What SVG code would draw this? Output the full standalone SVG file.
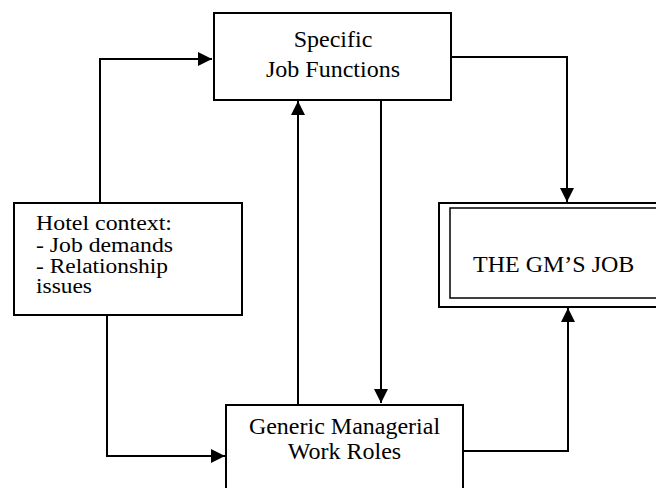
<svg xmlns="http://www.w3.org/2000/svg" width="656" height="488" viewBox="0 0 656 488">
<style>
.box{fill:#fff;stroke:#000;stroke-width:2}
.inner{fill:none;stroke:#000;stroke-width:1.5}
.ln{fill:none;stroke:#000;stroke-width:2}
text{font-family:"Liberation Serif","Times New Roman",serif;fill:#000}
.t{font-size:24px}
.h{font-size:20px}
</style>
<defs>
<marker id="ahb" viewBox="0 0 10 10" refX="10" refY="5" markerWidth="14" markerHeight="14" markerUnits="userSpaceOnUse" orient="auto"><path d="M0,0 L10,5 L0,10 Z" fill="#000"/></marker>
</defs>
<rect width="656" height="488" fill="#fff"/>
<g id="connectors">
<polyline class="ln" points="100,203 100,59 212,59" marker-end="url(#ahb)"/>
<polyline class="ln" points="451,57 567,57 567,202" marker-end="url(#ahb)"/>
<line class="ln" x1="298" y1="404" x2="298" y2="101" marker-end="url(#ahb)"/>
<line class="ln" x1="381" y1="100" x2="381" y2="403" marker-end="url(#ahb)"/>
<polyline class="ln" points="107,315 107,456 225,456" marker-end="url(#ahb)"/>
<polyline class="ln" points="463,451 568,451 568,308" marker-end="url(#ahb)"/>
</g>
<g id="specific">
<rect class="box" x="214" y="13" width="237" height="87"/>
<text class="t" x="333" y="47" text-anchor="middle">Specific</text>
<text class="t" x="333" y="77" text-anchor="middle">Job Functions</text>
</g>
<g id="hotel">
<rect class="box" x="14" y="203" width="228" height="112"/>
<text class="h" x="36" y="230" textLength="136" lengthAdjust="spacingAndGlyphs">Hotel context:</text>
<text class="h" x="36" y="252" textLength="137" lengthAdjust="spacingAndGlyphs">- Job demands</text>
<text class="h" x="36" y="273" textLength="132" lengthAdjust="spacingAndGlyphs">- Relationship</text>
<text class="h" x="36" y="293" textLength="56" lengthAdjust="spacingAndGlyphs">issues</text>
</g>
<g id="gmjob">
<rect class="box" x="439" y="203" width="230" height="104"/>
<rect class="inner" x="450" y="208" width="220" height="90"/>
<text class="t" x="473" y="272">THE GM’S JOB</text>
</g>
<g id="generic">
<rect class="box" x="226" y="405" width="237" height="100"/>
<text class="t" x="344.5" y="434" text-anchor="middle">Generic Managerial</text>
<text class="t" x="344.5" y="459" text-anchor="middle">Work Roles</text>
</g>
</svg>
